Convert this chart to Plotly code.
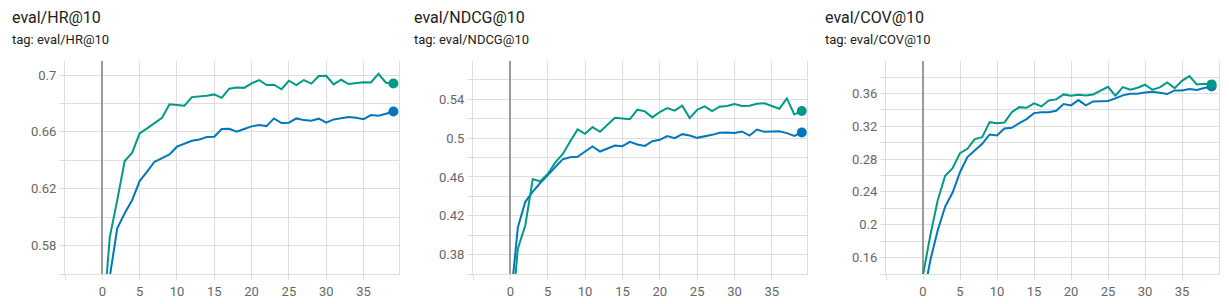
import plotly.graph_objects as go

steps = list(range(40))

hr_green = [0.52, 0.586, 0.612, 0.6395, 0.6454, 0.659, 0.6625, 0.6665, 0.670, 0.6794,
            0.6787, 0.6784, 0.6845, 0.6848, 0.6855, 0.6864, 0.684, 0.6904, 0.6913, 0.691,
            0.6941, 0.6965, 0.693, 0.6932, 0.690, 0.696, 0.693, 0.6965, 0.694, 0.6993,
            0.6995, 0.6934, 0.6967, 0.6937, 0.6941, 0.695, 0.6948, 0.7009, 0.6946, 0.6941]
hr_blue = [0.50, 0.558, 0.5921, 0.6027, 0.612, 0.6254, 0.632, 0.639, 0.6416, 0.6442,
           0.6496, 0.6515, 0.6538, 0.6547, 0.6564, 0.6566, 0.662, 0.6622, 0.6601, 0.662,
           0.6639, 0.6648, 0.6641, 0.6695, 0.6662, 0.6665, 0.6695, 0.6683, 0.6679, 0.6693,
           0.6665, 0.6688, 0.6698, 0.6705, 0.670, 0.669, 0.6719, 0.6714, 0.6728, 0.6744]

ndcg_green = [0.30, 0.3861, 0.4103, 0.4579, 0.4555, 0.4631, 0.4748, 0.4834, 0.4965, 0.509,
              0.5045, 0.5114, 0.5066, 0.5134, 0.521, 0.5203, 0.5196, 0.5293, 0.5276, 0.5214,
              0.5269, 0.531, 0.5283, 0.5334, 0.5207, 0.5293, 0.5328, 0.5279, 0.5324, 0.5331,
              0.5352, 0.5331, 0.5334, 0.5355, 0.5359, 0.5331, 0.5303, 0.541, 0.5245, 0.5279]
ndcg_blue = [0.33, 0.4079, 0.4344, 0.4448, 0.4538, 0.462, 0.470, 0.4782, 0.4803, 0.4807,
             0.4862, 0.4914, 0.4862, 0.4893, 0.4924, 0.4917, 0.4962, 0.4934, 0.492, 0.4969,
             0.4983, 0.5021, 0.500, 0.5041, 0.5027, 0.5003, 0.5017, 0.5034, 0.5055, 0.5059,
             0.5052, 0.5069, 0.5027, 0.5089, 0.5065, 0.5065, 0.5072, 0.5052, 0.5024, 0.5059]

cov_green = [0.139, 0.1876, 0.2303, 0.2596, 0.2689, 0.2872, 0.2925, 0.3043, 0.3067, 0.325,
             0.3238, 0.3246, 0.3372, 0.3433, 0.3425, 0.3478, 0.3441, 0.3515, 0.3527, 0.3588,
             0.3572, 0.3584, 0.3576, 0.3588, 0.3633, 0.3681, 0.3572, 0.3677, 0.3645, 0.3669,
             0.3706, 0.3645, 0.3673, 0.3734, 0.3665, 0.3754, 0.3811, 0.371, 0.3718, 0.371]
cov_blue = [0.11, 0.157, 0.1937, 0.2222, 0.2393, 0.264, 0.2824, 0.2905, 0.2986, 0.310,
            0.3088, 0.3173, 0.3181, 0.3238, 0.3287, 0.336, 0.3372, 0.3372, 0.3389, 0.347,
            0.3454, 0.3519, 0.3454, 0.3502, 0.3502, 0.3507, 0.3539, 0.3576, 0.3596, 0.3596,
            0.3612, 0.362, 0.3608, 0.3592, 0.3637, 0.3637, 0.3653, 0.3641, 0.3665, 0.3685]

titles = ["eval/HR@10", "eval/NDCG@10", "eval/COV@10"]

x_tickvals = [-5, 0, 5, 10, 15, 20, 25, 30, 35]
x_ticktext = ["", "0", "5", "10", "15", "20", "25", "30", "35"]

hr_tickvals = [0.56, 0.58, 0.60, 0.62, 0.64, 0.66, 0.68, 0.70]
hr_ticktext = ["", "0.58", "", "0.62", "", "0.66", "", "0.7"]
ndcg_tickvals = [0.36, 0.38, 0.40, 0.42, 0.44, 0.46, 0.48, 0.50, 0.52, 0.54, 0.56]
ndcg_ticktext = ["", "0.38", "", "0.42", "", "0.46", "", "0.5", "", "0.54", ""]
cov_tickvals = [0.14, 0.16, 0.18, 0.20, 0.22, 0.24, 0.26, 0.28, 0.30, 0.32, 0.34, 0.36, 0.38]
cov_ticktext = ["", "0.16", "", "0.2", "", "0.24", "", "0.28", "", "0.32", "", "0.36", ""]

GREEN = "#009988"
BLUE = "#0077bb"
GRID = "#dedede"
W, H = 1229, 304

panels = [
    dict(green=hr_green, blue=hr_blue, yr=[0.56, 0.7099], tv=hr_tickvals, tt=hr_ticktext,
         xd=(65, 399), xr=[-5, 39.75], tx=10),
    dict(green=ndcg_green, blue=ndcg_blue, yr=[0.36, 0.5795], tv=ndcg_tickvals, tt=ndcg_ticktext,
         xd=(473, 807), xr=[-5, 39.7], tx=412),
    dict(green=cov_green, blue=cov_blue, yr=[0.14, 0.3995], tv=cov_tickvals, tt=cov_ticktext,
         xd=(886, 1219), xr=[-5, 40.0], tx=823),
]

fig = go.Figure()
ydom = [(H - 274) / H, (H - 61) / H]

for i, p in enumerate(panels):
    n = "" if i == 0 else str(i + 1)
    xa, ya = "x" + n, "y" + n
    for vals, col in ((p["blue"], BLUE), (p["green"], GREEN)):
        fig.add_trace(go.Scatter(x=steps, y=vals, mode="lines", xaxis=xa, yaxis=ya,
                                 line=dict(color=col, width=2), showlegend=False,
                                 hoverinfo="skip"))
        fig.add_trace(go.Scatter(x=[steps[-1]], y=[vals[-1]], mode="markers", xaxis=xa, yaxis=ya,
                                 marker=dict(color=col, size=10), showlegend=False,
                                 cliponaxis=False, hoverinfo="skip"))
    fig.layout["xaxis" + n] = dict(
        domain=[p["xd"][0] / W, p["xd"][1] / W], range=p["xr"], anchor=ya,
        tickmode="array", tickvals=x_tickvals, ticktext=x_ticktext,
        showgrid=True, gridcolor=GRID, gridwidth=1,
        zeroline=True, zerolinecolor="#9a9a9a", zerolinewidth=2,
        showline=True, linecolor=GRID, linewidth=1,
        ticks="outside", ticklen=5, tickcolor=GRID,
        tickfont=dict(family="Roboto", size=13, color="#666666"),
        fixedrange=True)
    fig.layout["yaxis" + n] = dict(
        domain=ydom, range=p["yr"], anchor=xa,
        tickmode="array", tickvals=p["tv"], ticktext=p["tt"],
        showgrid=True, gridcolor=GRID, gridwidth=1, zeroline=False,
        showline=True, mirror=True, linecolor=GRID, linewidth=1,
        ticks="outside", ticklen=5, tickcolor=GRID,
        tickfont=dict(family="Roboto", size=13, color="#666666"),
        fixedrange=True)
    fig.add_annotation(text=titles[i], xref="paper", yref="paper",
                       x=p["tx"] / W, y=1 - 17 / H, xanchor="left", yanchor="middle",
                       showarrow=False, font=dict(family="Roboto", size=16, color="#212121"))
    fig.add_annotation(text="tag: " + titles[i], xref="paper", yref="paper",
                       x=p["tx"] / W, y=1 - 40 / H, xanchor="left", yanchor="middle",
                       showarrow=False, font=dict(family="Roboto", size=13, color="#212121"))

fig.update_layout(width=W, height=H, margin=dict(l=0, r=0, t=0, b=0),
                  paper_bgcolor="white", plot_bgcolor="white",
                  font=dict(family="Roboto"))

fig.write_html("out.html")
